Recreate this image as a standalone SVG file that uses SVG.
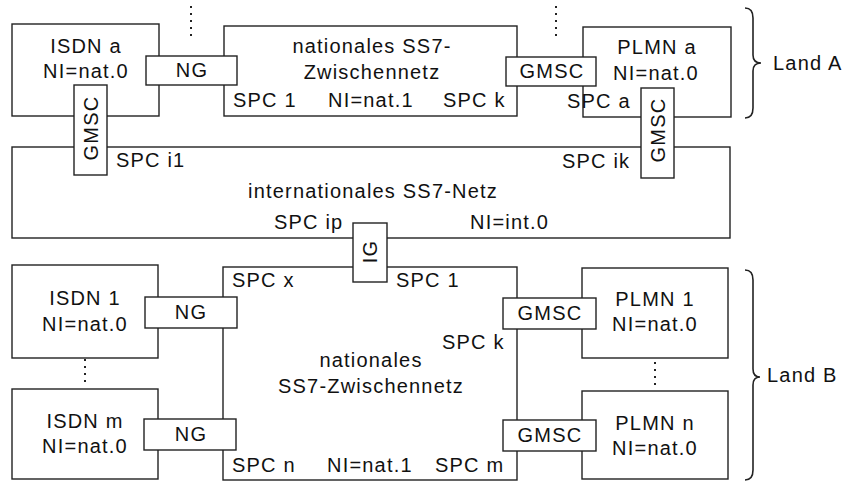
<svg xmlns="http://www.w3.org/2000/svg" width="848" height="483" viewBox="0 0 848 483">
<style>
.box{fill:#fff;stroke:#222;stroke-width:1.4}
.gw{fill:#fff;stroke:#222;stroke-width:1.4}
text{font-family:"Liberation Sans",Arial,sans-serif;font-size:20px;fill:#111;letter-spacing:1.2px}
.c{text-anchor:middle}
.dots{stroke:#222;stroke-width:2;stroke-dasharray:2 5;fill:none}
.brace{stroke:#222;stroke-width:1.6;fill:none}
</style>
<rect width="848" height="483" fill="#fff"/>
<g id="connectors">
<line class="dots" x1="191" y1="6" x2="191" y2="37"/>
<line class="dots" x1="556" y1="6" x2="556" y2="37"/>
<line class="dots" x1="85" y1="359" x2="85" y2="385"/>
<line class="dots" x1="655" y1="362" x2="655" y2="386"/>
<path class="brace" d="M745,8 Q753,8 753,18 L753,55 Q753,63 761,63 Q753,63 753,71 L753,108 Q753,118 745,118"/>
<path class="brace" d="M745,270 Q753,270 753,280 L753,369 Q753,377 760,377 Q753,377 753,385 L753,470 Q753,480 745,480"/>
</g>
<g id="isdn-a"><rect class="box" x="12" y="24" width="147" height="92"/><text class="c" x="86" y="53">ISDN a</text><text class="c" x="86" y="78">NI=nat.0</text></g>
<g id="national-a"><rect class="box" x="224" y="26" width="293" height="90"/><text class="c" x="372" y="53">nationales SS7-</text><text class="c" x="372" y="79">Zwischennetz</text><text x="233" y="107">SPC 1</text><text x="328" y="107">NI=nat.1</text><text x="443" y="107">SPC k</text></g>
<g id="plmn-a"><rect class="box" x="583" y="27" width="148" height="90"/><text class="c" x="657" y="54">PLMN a</text><text class="c" x="656" y="80">NI=nat.0</text><text x="567" y="108">SPC a</text></g>
<g id="international"><rect class="box" x="12" y="147" width="718" height="91"/><text x="116" y="167">SPC i1</text><text x="562" y="168">SPC ik</text><text class="c" x="373" y="198">internationales SS7-Netz</text><text x="274" y="229">SPC ip</text><text x="470" y="229">NI=int.0</text></g>
<g id="isdn-1"><rect class="box" x="12" y="265" width="146" height="93"/><text class="c" x="85" y="305">ISDN 1</text><text class="c" x="85" y="331">NI=nat.0</text></g>
<g id="isdn-m"><rect class="box" x="12" y="389" width="146" height="90"/><text class="c" x="85" y="428">ISDN m</text><text class="c" x="85" y="453">NI=nat.0</text></g>
<g id="national-b"><rect class="box" x="223" y="267" width="294" height="213"/><text x="232" y="287">SPC x</text><text x="396" y="287">SPC 1</text><text x="442" y="349">SPC k</text><text class="c" x="371" y="367">nationales</text><text class="c" x="371" y="393">SS7-Zwischennetz</text><text x="232" y="472">SPC n</text><text x="327" y="472">NI=nat.1</text><text x="435" y="472">SPC m</text></g>
<g id="plmn-1"><rect class="box" x="582" y="268" width="146" height="90"/><text class="c" x="655" y="306">PLMN 1</text><text class="c" x="655" y="331">NI=nat.0</text></g>
<g id="plmn-n"><rect class="box" x="582" y="391" width="146" height="88"/><text class="c" x="655" y="430">PLMN n</text><text class="c" x="655" y="455">NI=nat.0</text></g>
<g id="ng-a"><rect class="gw" x="146" y="56" width="91" height="29"/><text class="c" x="192" y="77">NG</text></g>
<g id="gmsc-a-h"><rect class="gw" x="506" y="57" width="90" height="29"/><text class="c" x="552" y="78">GMSC</text></g>
<g id="gmsc-a-left"><rect class="gw" x="74" y="85" width="33" height="90"/><text class="c" transform="translate(97.5,128) rotate(-90)">GMSC</text></g>
<g id="gmsc-a-right"><rect class="gw" x="641" y="88" width="33" height="90"/><text class="c" transform="translate(664.5,130) rotate(-90)">GMSC</text></g>
<g id="ig"><rect class="gw" x="353" y="223" width="34" height="59"/><text class="c" transform="translate(377,251.5) rotate(-90)">IG</text></g>
<g id="ng-1"><rect class="gw" x="145" y="297" width="92" height="31"/><text class="c" x="191" y="319">NG</text></g>
<g id="ng-m"><rect class="gw" x="144" y="419" width="92" height="31"/><text class="c" x="191" y="441">NG</text></g>
<g id="gmsc-1"><rect class="gw" x="503" y="298" width="93" height="31"/><text class="c" x="550" y="320">GMSC</text></g>
<g id="gmsc-n"><rect class="gw" x="503" y="420" width="93" height="31"/><text class="c" x="550" y="442">GMSC</text></g>
<g id="land-labels"><text x="773" y="70">Land A</text><text x="767" y="382">Land B</text></g>
</svg>
